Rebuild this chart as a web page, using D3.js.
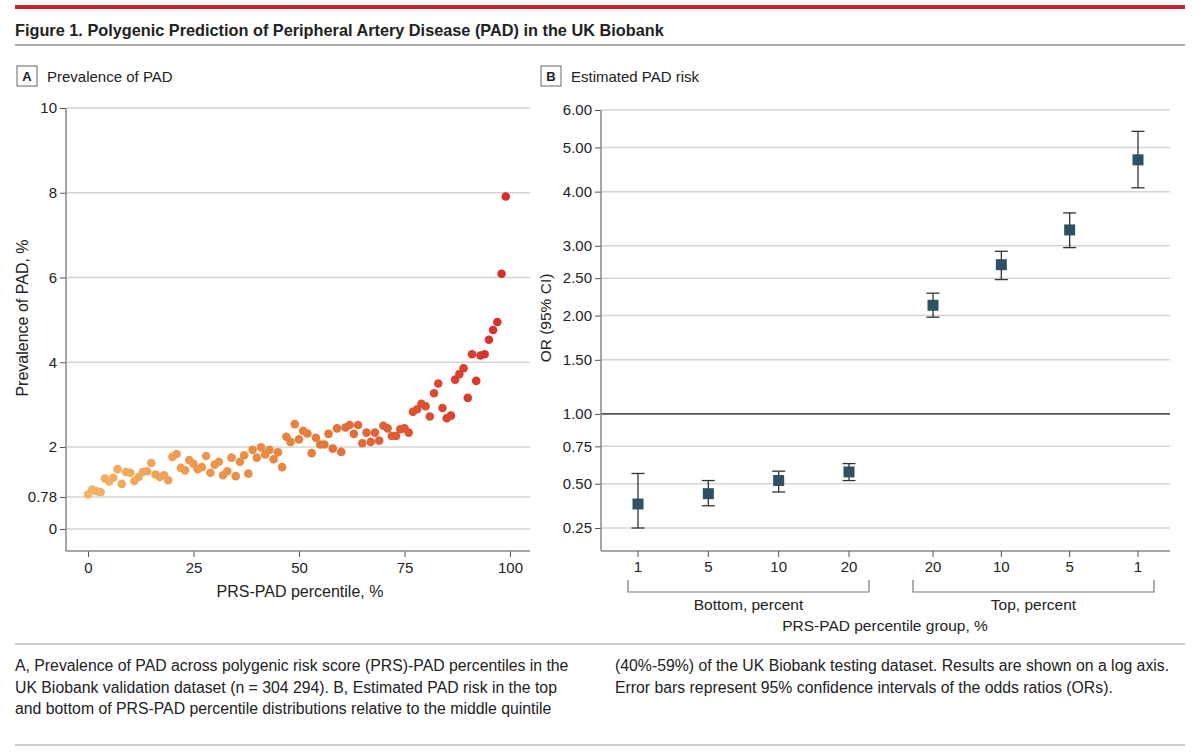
<!DOCTYPE html>
<html>
<head>
<meta charset="utf-8">
<script src="https://cdn.jsdelivr.net/npm/d3@7"></script>
<style>
  html, body { margin: 0; padding: 0; background: #fff; }
  svg { display: block; font-family: "Liberation Sans", Arial, sans-serif; }
</style>
</head>
<body>
<svg id="chart" width="1200" height="754"></svg>
<script>
// ---------- Panel A data ----------
const percentiles = [0,1,2,3,4,5,6,7,8,9,10,11,12,13,14,15,16,17,18,19,20,21,22,23,24,25,26,27,28,29,30,31,32,33,34,35,36,37,38,39,40,41,42,43,44,45,46,47,48,49,50,51,52,53,54,55,56,57,58,59,60,61,62,63,64,65,66,67,68,69,70,71,72,73,74,75,76,77,78,79,80,81,82,83,84,85,86,87,88,89,90,91,92,93,94,95,96,97,98,99];
const prevalence = [0.84,0.96,0.92,0.90,1.23,1.16,1.25,1.46,1.10,1.39,1.37,1.17,1.27,1.39,1.41,1.61,1.33,1.27,1.31,1.19,
  1.76,1.83,1.49,1.43,1.68,1.59,1.46,1.51,1.78,1.37,1.57,1.64,1.31,1.41,1.74,1.29,1.64,1.80,1.35,1.93,
  1.74,1.99,1.82,1.93,1.70,1.87,1.51,2.24,2.12,2.54,2.18,2.38,2.32,1.85,2.22,2.06,2.06,2.31,1.96,2.44,
  1.88,2.46,2.52,2.31,2.52,2.09,2.34,2.12,2.34,2.15,2.50,2.44,2.26,2.26,2.42,2.44,2.34,2.83,2.89,3.02,
  2.96,2.72,3.27,3.50,2.92,2.68,2.74,3.59,3.72,3.86,3.16,4.19,3.56,4.16,4.19,4.53,4.76,4.95,6.09,7.91];
const xTicksA = [0, 25, 50, 75, 100];
const yTicksA = [0, 0.78, 2, 4, 6, 8, 10];

// ---------- Panel B data ----------
const groupNames = ["Bottom", "Bottom", "Bottom", "Bottom", "Top", "Top", "Top", "Top"];
const groupLabels = ["1", "5", "10", "20", "20", "10", "5", "1"];
const oddsRatio = [0.38, 0.44, 0.52, 0.575, 2.13, 2.70, 3.27, 4.70];
const ciLow =     [0.25, 0.37, 0.45, 0.52, 1.98, 2.48, 2.97, 4.08];
const ciHigh =    [0.565, 0.52, 0.58, 0.63, 2.29, 2.91, 3.58, 5.41];
const yTicksB = [0.25, 0.50, 0.75, 1.00, 1.50, 2.00, 2.50, 3.00, 4.00, 5.00, 6.00];

// ---------- styles ----------
const TEXT = "#222";
const GRID = "#d4d4d4";
const AXIS = "#8a8a8a";
const MARKER = "#2e5164";
const TICK_FS = 15;
const LABEL_FS = 16;

const svg = d3.select("#chart");
svg.append("rect").attr("width", 1200).attr("height", 754).attr("fill", "#fff");

// Header
svg.append("rect").attr("x", 15).attr("y", 5).attr("width", 1170).attr("height", 4).attr("fill", "#cf2031");
svg.append("text").attr("x", 15).attr("y", 36).attr("fill", TEXT)
  .attr("font-size", 16.3).attr("font-weight", "bold")
  .text("Figure 1. Polygenic Prediction of Peripheral Artery Disease (PAD) in the UK Biobank");
svg.append("line").attr("x1", 15).attr("x2", 1185).attr("y1", 45).attr("y2", 45).attr("stroke", "#555").attr("stroke-width", 1.2);

function panelLabel(x, letter, title) {
  svg.append("rect").attr("x", x).attr("y", 66).attr("width", 20).attr("height", 20)
    .attr("fill", "none").attr("stroke", "#666").attr("stroke-width", 1);
  svg.append("text").attr("x", x + 10).attr("y", 81).attr("text-anchor", "middle")
    .attr("font-size", 13).attr("font-weight", "bold").attr("fill", TEXT).text(letter);
  svg.append("text").attr("x", x + 30).attr("y", 82).attr("font-size", 15).attr("fill", TEXT).text(title);
}
panelLabel(17, "A", "Prevalence of PAD");
panelLabel(541, "B", "Estimated PAD risk");

// ---------- Panel A ----------
const xA = d3.scaleLinear().domain([0, 100]).range([88, 510]);
const yA = d3.scaleLinear().domain([0, 2, 10]).range([529, 447, 108]);
const colorA = d3.scaleLinear().domain([0, 50, 99]).range(["#f3b365", "#e8813d", "#d62e2b"]).interpolate(d3.interpolateRgb);

const gA = svg.append("g");
gA.selectAll("line.grid").data(yTicksA).join("line").attr("class", "grid")
  .attr("x1", 66).attr("x2", 530).attr("y1", d => yA(d)).attr("y2", d => yA(d))
  .attr("stroke", GRID).attr("stroke-width", 1.5);

const yAxisA = d3.axisLeft(yA).tickValues(yTicksA).tickSize(6).tickPadding(3)
  .tickFormat(d => d === 0.78 ? "0.78" : d3.format("d")(d));
const yAxA = gA.append("g").attr("transform", "translate(66,0)").call(yAxisA);
yAxA.select(".domain").remove();
yAxA.append("line").attr("x1", 0).attr("x2", 0).attr("y1", 108).attr("y2", 551).attr("stroke", AXIS).attr("stroke-width", 1.5);

const xAxisA = d3.axisBottom(xA).tickValues(xTicksA).tickSize(6).tickPadding(5).tickFormat(d3.format("d"));
const xAxA = gA.append("g").attr("transform", "translate(0,551)").call(xAxisA);
xAxA.select(".domain").remove();
xAxA.append("line").attr("x1", 66).attr("x2", 530).attr("y1", 0).attr("y2", 0).attr("stroke", AXIS).attr("stroke-width", 1.5);

[yAxA, xAxA].forEach(ax => {
  ax.selectAll(".tick line").attr("stroke", "#555").attr("stroke-width", 1);
  ax.selectAll(".tick text").attr("font-size", TICK_FS).attr("fill", TEXT).attr("font-family", "Liberation Sans, Arial, sans-serif");
});

gA.selectAll("circle.pt").data(percentiles).join("circle").attr("class", "pt")
  .attr("cx", (d) => xA(d)).attr("cy", (d, i) => yA(prevalence[i]))
  .attr("r", 4.3).attr("fill", d => colorA(d));

gA.append("text").attr("x", 300).attr("y", 597).attr("text-anchor", "middle")
  .attr("font-size", LABEL_FS).attr("fill", TEXT).text("PRS-PAD percentile, %");
gA.append("text").attr("transform", "translate(28,318) rotate(-90)").attr("text-anchor", "middle")
  .attr("font-size", LABEL_FS).attr("fill", TEXT).text("Prevalence of PAD, %");

// ---------- Panel B ----------
const yB = d3.scaleSymlog().constant(1).domain([0.25, 6]).range([528, 110]);
const xBottom = d3.scalePoint().domain(["1", "5", "10", "20"]).range([638, 849]);
const xTop = d3.scalePoint().domain(["20", "10", "5", "1"]).range([933, 1138]);
const xB = i => groupNames[i] === "Bottom" ? xBottom(groupLabels[i]) : xTop(groupLabels[i]);
const idx = oddsRatio.map((d, i) => i);

const gB = svg.append("g");
gB.selectAll("line.grid").data(yTicksB).join("line").attr("class", "grid")
  .attr("x1", 601).attr("x2", 1170).attr("y1", d => yB(d)).attr("y2", d => yB(d))
  .attr("stroke", d => d === 1 ? "#555" : GRID).attr("stroke-width", d => d === 1 ? 1.8 : 1.5);

const yAxisB = d3.axisLeft(yB).tickValues(yTicksB).tickSize(6).tickPadding(3).tickFormat(d3.format(".2f"));
const yAxB = gB.append("g").attr("transform", "translate(601,0)").call(yAxisB);
yAxB.select(".domain").remove();
yAxB.append("line").attr("x1", 0).attr("x2", 0).attr("y1", 110).attr("y2", 551).attr("stroke", AXIS).attr("stroke-width", 1.5);
yAxB.selectAll(".tick line").attr("stroke", "#555");
yAxB.selectAll(".tick text").attr("font-size", TICK_FS).attr("fill", TEXT).attr("font-family", "Liberation Sans, Arial, sans-serif");

gB.append("line").attr("x1", 601).attr("x2", 1170).attr("y1", 551).attr("y2", 551).attr("stroke", AXIS).attr("stroke-width", 1.5);
gB.selectAll("line.xtick").data(idx).join("line").attr("class", "xtick")
  .attr("x1", i => xB(i)).attr("x2", i => xB(i)).attr("y1", 551).attr("y2", 557)
  .attr("stroke", "#555");
gB.selectAll("text.xlab").data(idx).join("text").attr("class", "xlab")
  .attr("x", i => xB(i)).attr("y", 572).attr("text-anchor", "middle")
  .attr("font-size", TICK_FS).attr("fill", TEXT).text(i => groupLabels[i]);

// brackets
function bracket(x1, x2, label) {
  gB.append("path").attr("d", `M${x1},580 V592 H${x2} V580`).attr("fill", "none").attr("stroke", "#777").attr("stroke-width", 1.2);
  gB.append("text").attr("x", (x1 + x2) / 2).attr("y", 610).attr("text-anchor", "middle")
    .attr("font-size", 15.5).attr("fill", TEXT).text(label);
}
bracket(xBottom("1") - 10, xBottom("20") + 20, "Bottom, percent");
bracket(xTop("20") - 20, xTop("1") + 16, "Top, percent");
gB.append("text").attr("x", 885).attr("y", 631).attr("text-anchor", "middle")
  .attr("font-size", 15.5).attr("fill", TEXT).text("PRS-PAD percentile group, %");
gB.append("text").attr("transform", "translate(551,318) rotate(-90)").attr("text-anchor", "middle")
  .attr("font-size", 15.5).attr("fill", TEXT).text("OR (95% CI)");

// error bars
const cap = 6.5;
gB.selectAll("line.ci").data(idx).join("line").attr("class", "ci")
  .attr("x1", i => xB(i)).attr("x2", i => xB(i)).attr("y1", i => yB(ciLow[i])).attr("y2", i => yB(ciHigh[i]))
  .attr("stroke", "#333").attr("stroke-width", 1.3);
gB.selectAll("line.capHi").data(idx).join("line").attr("class", "capHi")
  .attr("x1", i => xB(i) - cap).attr("x2", i => xB(i) + cap).attr("y1", i => yB(ciHigh[i])).attr("y2", i => yB(ciHigh[i]))
  .attr("stroke", "#333").attr("stroke-width", 1.3);
gB.selectAll("line.capLo").data(idx).join("line").attr("class", "capLo")
  .attr("x1", i => xB(i) - cap).attr("x2", i => xB(i) + cap).attr("y1", i => yB(ciLow[i])).attr("y2", i => yB(ciLow[i]))
  .attr("stroke", "#333").attr("stroke-width", 1.3);
const sq = 11;
gB.selectAll("rect.or").data(idx).join("rect").attr("class", "or")
  .attr("x", i => xB(i) - sq / 2).attr("y", i => yB(oddsRatio[i]) - sq / 2)
  .attr("width", sq).attr("height", sq).attr("fill", MARKER);

// ---------- Caption ----------
svg.append("line").attr("x1", 15).attr("x2", 1185).attr("y1", 644).attr("y2", 644).attr("stroke", "#999").attr("stroke-width", 1);
const captionLeft = [
  "A, Prevalence of PAD across polygenic risk score (PRS)-PAD percentiles in the",
  "UK Biobank validation dataset (n = 304 294). B, Estimated PAD risk in the top",
  "and bottom of PRS-PAD percentile distributions relative to the middle quintile"
];
const captionRight = [
  "(40%-59%) of the UK Biobank testing dataset. Results are shown on a log axis.",
  "Error bars represent 95% confidence intervals of the odds ratios (ORs)."
];
svg.selectAll("text.capL").data(captionLeft).join("text").attr("class", "capL")
  .attr("x", 15).attr("y", (d, i) => 671 + i * 21.5).attr("font-size", 15.8).attr("fill", TEXT).text(d => d);
svg.selectAll("text.capR").data(captionRight).join("text").attr("class", "capR")
  .attr("x", 615).attr("y", (d, i) => 671 + i * 21.5).attr("font-size", 15.8).attr("fill", TEXT).text(d => d);
svg.append("line").attr("x1", 15).attr("x2", 1185).attr("y1", 745).attr("y2", 745).attr("stroke", "#999").attr("stroke-width", 1);
</script>
</body>
</html>
